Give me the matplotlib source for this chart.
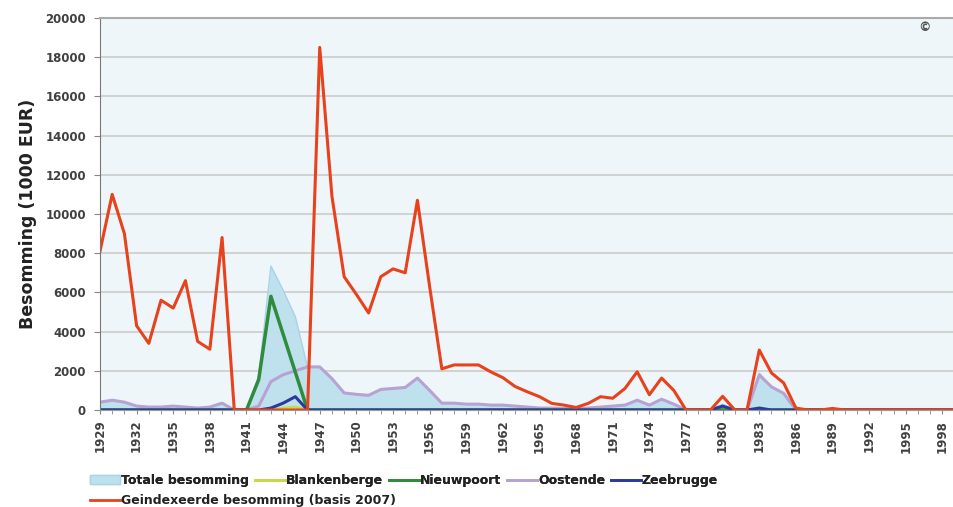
import matplotlib
matplotlib.use("Agg")
import matplotlib.pyplot as plt
import numpy as np

years = np.arange(1929, 2000)

# Geindexeerde besomming (basis 2007)
geindexeerd = [8100, 11000, 9000, 4300, 3400, 5600, 5200, 6600, 3500, 3100,
               8800, 0, 0, 0, 0, 0, 0, 0, 18500, 10900,
               6800, 5900, 4950, 6800, 7200, 7000, 10700, 6300, 2100, 2300,
               2300, 2300, 1950, 1650, 1200, 930, 680, 340, 250, 130,
               340, 680, 600, 1100, 1950, 780, 1630, 1000, 0, 0,
               0, 700, 0, 0, 3060, 1890, 1380, 100, 0, 0,
               80, 0, 0, 0, 0, 0, 0, 0, 0, 0, 0]

oostende = [400, 500, 400, 200, 150, 150, 200, 150, 100, 150,
            350, 0, 0, 200, 1450, 1800, 2000, 2200, 2200, 1600,
            870, 800, 750, 1050, 1100, 1150, 1630, 1000, 350, 350,
            300, 300, 250, 250, 200, 150, 100, 100, 80, 60,
            100, 150, 200, 250, 500, 250, 550, 300, 0, 0,
            0, 100, 0, 0, 1790, 1180, 850, 0, 0, 0,
            0, 0, 0, 0, 0, 0, 0, 0, 0, 0, 0]

nieuwpoort = [0, 0, 0, 0, 0, 0, 0, 0, 0, 0,
              0, 0, 0, 1550, 5800, 3870, 1930, 0, 0, 0,
              0, 0, 0, 0, 0, 0, 0, 0, 0, 0,
              0, 0, 0, 0, 0, 0, 0, 0, 0, 0,
              0, 0, 0, 0, 0, 0, 0, 0, 0, 0,
              0, 0, 0, 0, 0, 0, 0, 0, 0, 0,
              0, 0, 0, 0, 0, 0, 0, 0, 0, 0, 0]

zeebrugge = [0, 0, 0, 0, 0, 0, 0, 0, 0, 0,
             0, 0, 0, 0, 100, 350, 680, 0, 0, 0,
             0, 0, 0, 0, 0, 0, 0, 0, 0, 0,
             0, 0, 0, 0, 0, 0, 0, 0, 0, 0,
             0, 0, 0, 0, 0, 0, 0, 0, 0, 0,
             0, 200, 0, 0, 100, 0, 0, 0, 0, 0,
             0, 0, 0, 0, 0, 0, 0, 0, 0, 0, 0]

blankenberge = [0, 0, 0, 0, 0, 0, 0, 0, 0, 0,
                0, 0, 0, 0, 0, 100, 150, 0, 0, 0,
                0, 0, 0, 0, 0, 0, 0, 0, 0, 0,
                0, 0, 0, 0, 0, 0, 0, 0, 0, 0,
                0, 0, 0, 0, 0, 0, 0, 0, 0, 0,
                0, 0, 0, 0, 0, 0, 0, 0, 0, 0,
                0, 0, 0, 0, 0, 0, 0, 0, 0, 0, 0]

totaal = [400, 500, 400, 200, 150, 150, 200, 150, 100, 150,
          350, 0, 0, 1750, 7350, 6120, 4760, 2200, 2200, 1600,
          870, 800, 750, 1050, 1100, 1150, 1630, 1000, 350, 350,
          300, 300, 250, 250, 200, 150, 100, 100, 80, 60,
          100, 150, 200, 250, 500, 250, 550, 300, 0, 0,
          0, 300, 0, 0, 1890, 1180, 850, 0, 0, 0,
          0, 0, 0, 0, 0, 0, 0, 0, 0, 0, 0]

tick_years = np.arange(1929, 1999, 3)

fig = plt.figure(figsize=(9.54, 5.07), dpi=100)
ax = fig.add_axes([0.1048, 0.1913, 0.8952, 0.7732])
ax.set_facecolor("#eef6fa")

txt = "#404040"

ax.fill_between(years, totaal, color="#bde0ee", alpha=0.95, lw=0)
ax.plot(years, totaal, color="#a9d3e6", lw=1)
ax.plot(years, oostende, color="#b7a2d3", lw=2.2)
ax.plot(years, blankenberge, color="#c9d845", lw=2)
ax.plot(years, nieuwpoort, color="#2f8c3c", lw=2.5)
ax.plot(years, zeebrugge, color="#2a3b9c", lw=2.2)
ax.plot(years, geindexeerd, color="#e8421c", lw=2.2)

ax.set_xlim(1929, 1998.95)
ax.set_ylim(0, 20000)
ax.set_yticks(np.arange(0, 20001, 2000))
ax.set_xticks(tick_years)
ax.set_xticks(years[:-1], minor=True)
ax.set_xticklabels([str(y) for y in tick_years], rotation=90)
ax.grid(axis="y", color="#cccccc", lw=1.2)
ax.set_axisbelow(True)

for lab in ax.get_xticklabels() + ax.get_yticklabels():
    lab.set_fontweight("bold")
    lab.set_fontsize(8.5)
    lab.set_color(txt)
ax.tick_params(axis="x", which="both", length=3, color="#888888", pad=4)
ax.tick_params(axis="y", length=4, color="#888888", pad=6)

ax.spines["right"].set_visible(False)
ax.spines["left"].set_color("#777777")
ax.spines["top"].set_color("#aaaaaa")
ax.spines["top"].set_linewidth(1.5)
ax.spines["bottom"].set_color("#999999")

ax.set_ylabel("Besomming (1000 EUR)", fontsize=12.5, fontweight="bold",
              color="#222222", labelpad=6)

ax.text(0.965, 0.975, "\u00a9", transform=ax.transAxes, fontsize=9,
        fontweight="bold", color="#555555", ha="center", va="center")

# legend, two rows
h_tot = plt.Rectangle((0, 0), 1, 1, fc="#bde0ee", ec="#a9d3e6")
h_bl = plt.Line2D([], [], color="#c9d845", lw=2)
h_ni = plt.Line2D([], [], color="#2f8c3c", lw=2)
h_oo = plt.Line2D([], [], color="#b7a2d3", lw=2)
h_ze = plt.Line2D([], [], color="#2a3b9c", lw=2)
h_ge = plt.Line2D([], [], color="#e8421c", lw=2)

leg_font = {"weight": "semibold", "size": 9}
leg1 = fig.legend([h_tot, h_bl, h_ni, h_oo, h_ze],
                  ["Totale besomming", "Blankenberge", "Nieuwpoort", "Oostende", "Zeebrugge"],
                  loc="center left", bbox_to_anchor=(0.094, 0.052), ncol=5,
                  frameon=False, prop=leg_font, handlelength=2.4, handletextpad=0.1,
                  columnspacing=0.45, borderpad=0, borderaxespad=0)
for t in leg1.get_texts():
    t.set_color("#222222")
leg2 = fig.legend([h_ge], ["Geindexeerde besomming (basis 2007)"],
                  loc="center left", bbox_to_anchor=(0.094, 0.013),
                  frameon=False, prop=leg_font, handlelength=2.4, handletextpad=0.1,
                  borderpad=0, borderaxespad=0)
for t in leg2.get_texts():
    t.set_color("#222222")
fig.add_artist(leg1)

fig.savefig("out.png", dpi=100)
